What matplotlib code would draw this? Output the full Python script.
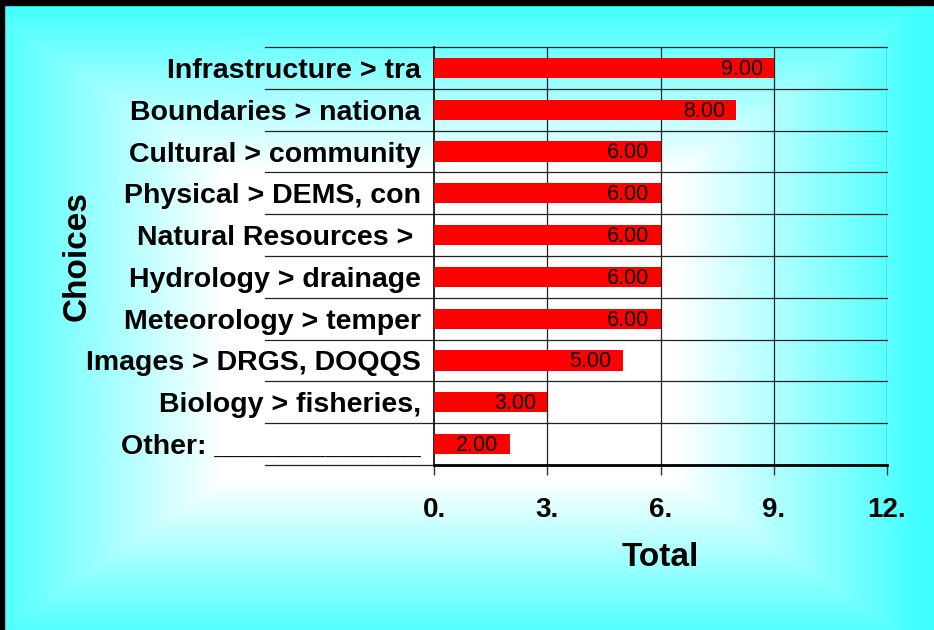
import numpy as np
import matplotlib
matplotlib.use("Agg")
import matplotlib.pyplot as plt
from matplotlib.transforms import blended_transform_factory

plt.rcParams['font.family'] = ['Liberation Sans', 'DejaVu Sans']

# data (top to bottom as shown)
choices = ["Infrastructure > tra", "Boundaries > nationa", "Cultural > community",
           "Physical > DEMS, con", "Natural Resources > ", "Hydrology > drainage",
           "Meteorology > temper", "Images > DRGS, DOQQS", "Biology > fisheries,",
           "Other: _____________"]
totals = [9, 8, 6, 6, 6, 6, 6, 5, 3, 2]
xticks = [0, 3, 6, 9, 12]

W, H = 934, 630
fig = plt.figure(figsize=(W / 100, H / 100), dpi=100)

# background: white centre fading to cyan at the edges (rectangular gradient)
bg = fig.add_axes([0, 0, 1, 1], zorder=0)
yy, xx = np.mgrid[0:H, 0:W]
t = np.maximum(np.abs(xx - 450) / 470.0, np.abs(yy - 325) / 320.0)
f = np.clip((t - 0.48) / 0.52, 0, 1)
img = np.ones((H, W, 3))
img[..., 0] = 1 - f * (1 - 64 / 255)
bg.imshow(img, extent=[0, W, H, 0], aspect='auto')
bg.set_xlim(0, W)
bg.set_ylim(H, 0)
bg.axis('off')
# frame (top and left only)
bg.add_patch(plt.Rectangle((0, 0), W, 5, color='black'))
bg.add_patch(plt.Rectangle((0, 0), 4, H, color='black'))

ax = fig.add_axes([434 / W, 1 - 465 / H, 453 / W, 418 / H], zorder=1)
ax.patch.set_alpha(0)

n = len(choices)
ypos = np.arange(n)[::-1]
bars = ax.barh(ypos, totals, height=0.48, color='#ff0000', zorder=3)
for b, v in zip(bars, totals):
    ax.annotate(f"{v:.2f}", (b.get_width(), b.get_y() + b.get_height() / 2),
                xytext=(-8, -1), textcoords='offset points',
                ha='right', va='center', fontsize=15.5, color='black', zorder=4)

ax.set_xlim(0, 12)
ax.set_ylim(-0.5, n - 0.5)
ax.set_xticks(xticks)
ax.set_xticklabels([f"{v}." for v in xticks], fontsize=20, fontweight='bold')
ax.set_yticks(ypos)
ax.set_yticklabels(choices, fontsize=20.5, fontweight='bold')
ax.tick_params(axis='y', length=0, pad=9.5)
ax.tick_params(axis='x', direction='out', length=7, width=1, pad=16, color='#333333')

# vertical gridlines
for v in xticks[1:]:
    ax.axvline(v, color='#222222', lw=0.9, zorder=1)
# horizontal separators extending into the label area
tr = blended_transform_factory(ax.transAxes, ax.transData)
for y in np.arange(-0.5, n, 1.0):
    ax.plot([-0.373, 1], [y, y], transform=tr, color='#222222', lw=0.9,
            clip_on=False, zorder=1)

for s in ['top', 'right']:
    ax.spines[s].set_visible(False)
ax.spines['left'].set_color('black')
ax.spines['left'].set_linewidth(1.2)
ax.spines['bottom'].set_color('black')
ax.spines['bottom'].set_linewidth(2)

fig.text(660 / W, 1 - 557 / H, "Total", ha='center', va='center',
         fontsize=24, fontweight='bold')
fig.text(77 / W, 1 - 256 / H, "Choices", ha='center', va='center',
         rotation=90, fontsize=24, fontweight='bold')

fig.savefig("out.png", dpi=100)
